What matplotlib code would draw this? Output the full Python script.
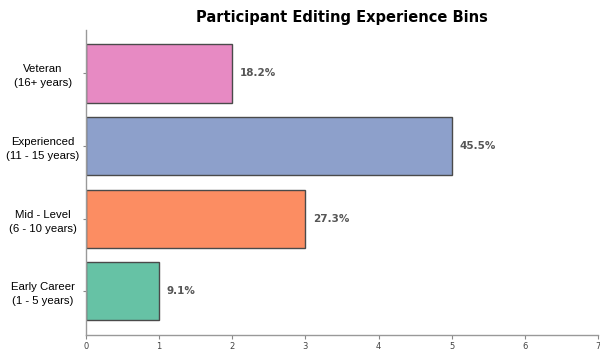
import matplotlib
matplotlib.use("Agg")
import matplotlib.pyplot as plt

# data, bottom to top
categories = ["Early Career\n(1 - 5 years)", "Mid - Level\n(6 - 10 years)",
              "Experienced\n(11 - 15 years)", "Veteran\n(16+ years)"]
counts = [1, 3, 5, 2]
colors = ["#66c2a5", "#fc8d62", "#8da0cb", "#e78ac3"]
xticks = [0, 1, 2, 3, 4, 5, 6, 7]

total = sum(counts)

fig = plt.figure(figsize=(6, 3.56), dpi=100)
ax = fig.add_axes([0.143, 0.059, 0.854, 0.857])

ypos = list(range(len(counts)))
ax.barh(ypos, counts, height=0.8, color=colors, edgecolor="#4a4a4a", linewidth=1.0)

for y, c in zip(ypos, counts):
    ax.text(c + 0.1, y, f"{100 * c / total:.1f}%", va="center", ha="left",
            fontsize=7.5, fontweight="bold", color="#555555")

ax.set_xlim(0, 7)
ax.set_ylim(-0.6, 3.6)
ax.set_xticks(xticks)
ax.set_xticklabels([str(t) for t in xticks], fontsize=6, color="#444444")
ax.set_yticks(ypos)
ax.set_yticklabels(categories, fontsize=8.2, family="Liberation Sans",
                   linespacing=1.5, ha="center")
ax.tick_params(axis="y", pad=29, length=2, color="#888888")
ax.tick_params(axis="x", length=3, color="#888888", pad=2)

for s in ["top", "right"]:
    ax.spines[s].set_visible(False)
for s in ["left", "bottom"]:
    ax.spines[s].set_color("#999999")
    ax.spines[s].set_linewidth(1.0)

fig.text(0.57, 0.952, "Participant Editing Experience Bins", ha="center", va="center",
         fontsize=10.5, fontweight="bold")

fig.savefig("out.png", dpi=100)
